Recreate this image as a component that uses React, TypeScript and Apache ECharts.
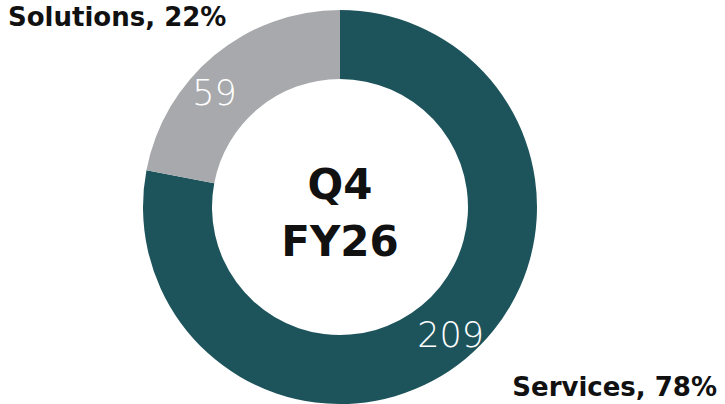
import React, { useEffect, useRef } from "react";
import * as echarts from "echarts";

const categories = ["Services", "Solutions"];
const values = [209, 59];
const shares = ["78%", "22%"];
const colors = ["#1d545c", "#a7a9ac"];
const centerLines = ["Q4", "FY26"];

const FONT = "'DejaVu Sans', sans-serif";

export default function App() {
  const ref = useRef<HTMLDivElement>(null);
  useEffect(() => {
    document.body.style.margin = "0";
    const chart = echarts.init(ref.current!, null, { renderer: "svg" });
    chart.setOption({
      animation: false,
      backgroundColor: "#ffffff",
      series: [
        {
          type: "pie",
          center: [340, 207],
          radius: [128, 197],
          startAngle: 90,
          clockwise: true,
          avoidLabelOverlap: false,
          silent: true,
          label: {
            show: true,
            position: "inside",
            formatter: "{c}",
            color: "#ffffff",
            fontFamily: FONT,
            fontWeight: 200,
            fontSize: 35,
          },
          labelLine: { show: false },
          data: categories.map((name, i) => ({
            name,
            value: values[i],
            itemStyle: { color: colors[i] },
            label: i === 1 ? { offset: [-20, 13] } : { offset: [5, 1] },
          })),
        },
      ],
      graphic: [
        {
          type: "text",
          x: 8,
          y: 17,
          style: {
            text: `${categories[1]}, ${shares[1]}`,
            font: `bold 26px ${FONT}`,
            fill: "#111111",
            align: "left",
            verticalAlign: "middle",
          },
        },
        {
          type: "text",
          x: 717,
          y: 387,
          style: {
            text: `${categories[0]}, ${shares[0]}`,
            font: `bold 26px ${FONT}`,
            fill: "#111111",
            align: "right",
            verticalAlign: "middle",
          },
        },
        {
          type: "text",
          x: 340,
          y: 213,
          style: {
            text: centerLines.join("\n"),
            font: `bold 42px ${FONT}`,
            lineHeight: 57,
            fill: "#111111",
            align: "center",
            verticalAlign: "middle",
          },
        },
      ],
    });
    return () => chart.dispose();
  }, []);
  return <div ref={ref} style={{ width: 725, height: 404 }} />;
}
